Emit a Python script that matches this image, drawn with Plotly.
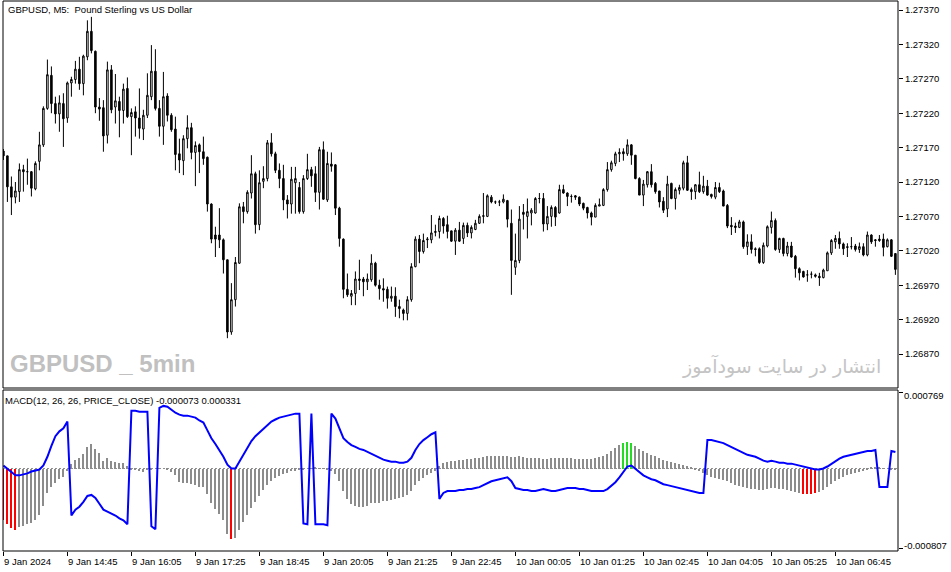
import plotly.graph_objects as go

time_labels = ["9 Jan 2024", "9 Jan 14:45", "9 Jan 16:05", "9 Jan 17:25", "9 Jan 18:45",
               "9 Jan 20:05", "9 Jan 21:25", "9 Jan 22:45", "10 Jan 00:05", "10 Jan 01:25",
               "10 Jan 02:45", "10 Jan 04:05", "10 Jan 05:25", "10 Jan 06:45"]
bars_per_label = 16

price_ticks = [1.26870, 1.26920, 1.26970, 1.27020, 1.27070, 1.27120,
               1.27170, 1.27220, 1.27270, 1.27320, 1.27370]
macd_edge_labels = [0.000769, -0.000807]

opens = [
 1.27165, 1.27158, 1.27113, 1.27098, 1.27106, 1.27138, 1.27135, 1.27135, 1.27110, 1.27150,
 1.27174, 1.27227, 1.27275, 1.27234, 1.27219, 1.27234, 1.27213, 1.27264, 1.27269, 1.27284,
 1.27263, 1.27302, 1.27339, 1.27310, 1.27229, 1.27228, 1.27188, 1.27283, 1.27229, 1.27237,
 1.27224, 1.27256, 1.27215, 1.27222, 1.27213, 1.27197, 1.27217, 1.27244, 1.27281, 1.27227,
 1.27201, 1.27245, 1.27217, 1.27197, 1.27161, 1.27151, 1.27183, 1.27199, 1.27163, 1.27174,
 1.27164, 1.27156, 1.27088, 1.27043, 1.27043, 1.27036, 1.27007, 1.26902, 1.26949, 1.27002,
 1.27084, 1.27077, 1.27104, 1.27132, 1.27058, 1.27121, 1.27125, 1.27177, 1.27161, 1.27137,
 1.27125, 1.27094, 1.27088, 1.27119, 1.27112, 1.27077, 1.27125, 1.27138, 1.27132, 1.27105,
 1.27167, 1.27094, 1.27146, 1.27145, 1.27082, 1.27037, 1.26964, 1.26954, 1.26958, 1.26979,
 1.26979, 1.26975, 1.26978, 1.27002, 1.26970, 1.26965, 1.26964, 1.26951, 1.26954, 1.26939,
 1.26934, 1.26929, 1.26949, 1.26997, 1.27037, 1.27019, 1.27036, 1.27036, 1.27048, 1.27048,
 1.27067, 1.27058, 1.27049, 1.27034, 1.27050, 1.27038, 1.27057, 1.27046, 1.27051, 1.27060,
 1.27070, 1.27070, 1.27098, 1.27091, 1.27091, 1.27091, 1.27093, 1.27060, 1.26996, 1.27006,
 1.27076, 1.27070, 1.27075, 1.27075, 1.27096, 1.27096, 1.27059, 1.27070, 1.27083, 1.27075,
 1.27109, 1.27104, 1.27099, 1.27100, 1.27098, 1.27089, 1.27083, 1.27075, 1.27069, 1.27085,
 1.27086, 1.27109, 1.27138, 1.27147, 1.27161, 1.27164, 1.27161, 1.27174, 1.27159, 1.27125,
 1.27101, 1.27116, 1.27135, 1.27118, 1.27107, 1.27092, 1.27081, 1.27118, 1.27096, 1.27108,
 1.27111, 1.27148, 1.27109, 1.27106, 1.27116, 1.27106, 1.27114, 1.27102, 1.27098, 1.27112,
 1.27107, 1.27086, 1.27057, 1.27056, 1.27054, 1.27062, 1.27026, 1.27033, 1.27023, 1.27023,
 1.27003, 1.27027, 1.27054, 1.27064, 1.27022, 1.27038, 1.27016, 1.27027, 1.27012, 1.26994,
 1.26990, 1.26985, 1.26986, 1.26985, 1.26983, 1.26981, 1.26991, 1.27017, 1.27033, 1.27038,
 1.27030, 1.27026, 1.27026, 1.27027, 1.27022, 1.27026, 1.27014, 1.27043, 1.27036, 1.27037,
 1.27037, 1.27026, 1.27036, 1.27016]

highs = [
 1.27168, 1.27158, 1.27128, 1.27120, 1.27147, 1.27145, 1.27154, 1.27136, 1.27150, 1.27193,
 1.27230, 1.27298, 1.27288, 1.27244, 1.27246, 1.27249, 1.27266, 1.27273, 1.27296, 1.27302,
 1.27305, 1.27355, 1.27360, 1.27311, 1.27242, 1.27239, 1.27295, 1.27290, 1.27277, 1.27244,
 1.27263, 1.27272, 1.27227, 1.27230, 1.27256, 1.27225, 1.27278, 1.27319, 1.27313, 1.27239,
 1.27280, 1.27249, 1.27220, 1.27215, 1.27183, 1.27188, 1.27217, 1.27206, 1.27179, 1.27176,
 1.27186, 1.27157, 1.27089, 1.27055, 1.27082, 1.27038, 1.27007, 1.26973, 1.27011, 1.27089,
 1.27091, 1.27108, 1.27159, 1.27135, 1.27137, 1.27143, 1.27181, 1.27191, 1.27164, 1.27147,
 1.27145, 1.27101, 1.27142, 1.27142, 1.27120, 1.27130, 1.27161, 1.27142, 1.27143, 1.27171,
 1.27179, 1.27164, 1.27163, 1.27146, 1.27084, 1.27038, 1.26987, 1.26963, 1.26990, 1.27007,
 1.26982, 1.26987, 1.27015, 1.27004, 1.26978, 1.26980, 1.26968, 1.26968, 1.26967, 1.26949,
 1.26936, 1.26954, 1.27002, 1.27041, 1.27043, 1.27045, 1.27040, 1.27072, 1.27058, 1.27071,
 1.27069, 1.27071, 1.27049, 1.27053, 1.27062, 1.27061, 1.27061, 1.27057, 1.27065, 1.27073,
 1.27104, 1.27102, 1.27101, 1.27093, 1.27094, 1.27102, 1.27094, 1.27080, 1.27045, 1.27085,
 1.27088, 1.27096, 1.27082, 1.27098, 1.27104, 1.27104, 1.27085, 1.27086, 1.27085, 1.27116,
 1.27116, 1.27105, 1.27102, 1.27101, 1.27099, 1.27090, 1.27084, 1.27077, 1.27089, 1.27096,
 1.27111, 1.27149, 1.27151, 1.27164, 1.27169, 1.27169, 1.27182, 1.27175, 1.27159, 1.27127,
 1.27123, 1.27136, 1.27146, 1.27120, 1.27107, 1.27098, 1.27129, 1.27119, 1.27112, 1.27116,
 1.27151, 1.27158, 1.27112, 1.27117, 1.27135, 1.27129, 1.27123, 1.27103, 1.27120, 1.27119,
 1.27109, 1.27088, 1.27069, 1.27061, 1.27065, 1.27064, 1.27044, 1.27044, 1.27025, 1.27025,
 1.27032, 1.27057, 1.27077, 1.27067, 1.27039, 1.27039, 1.27033, 1.27033, 1.27014, 1.26996,
 1.26991, 1.26992, 1.26990, 1.26987, 1.26988, 1.26994, 1.27019, 1.27037, 1.27043, 1.27048,
 1.27032, 1.27031, 1.27040, 1.27030, 1.27032, 1.27031, 1.27048, 1.27044, 1.27037, 1.27043,
 1.27045, 1.27038, 1.27037, 1.27016]

lows = [
 1.27152, 1.27091, 1.27072, 1.27089, 1.27091, 1.27106, 1.27116, 1.27099, 1.27108, 1.27137,
 1.27171, 1.27225, 1.27220, 1.27205, 1.27193, 1.27171, 1.27206, 1.27244, 1.27263, 1.27254,
 1.27246, 1.27297, 1.27307, 1.27220, 1.27209, 1.27164, 1.27176, 1.27220, 1.27205, 1.27185,
 1.27205, 1.27213, 1.27159, 1.27186, 1.27183, 1.27181, 1.27213, 1.27239, 1.27224, 1.27186,
 1.27174, 1.27208, 1.27193, 1.27137, 1.27133, 1.27130, 1.27169, 1.27153, 1.27114, 1.27133,
 1.27145, 1.27077, 1.27031, 1.27011, 1.27024, 1.26987, 1.26893, 1.26898, 1.26939, 1.27001,
 1.27060, 1.27074, 1.27096, 1.27045, 1.27050, 1.27111, 1.27121, 1.27157, 1.27133, 1.27111,
 1.27079, 1.27067, 1.27074, 1.27074, 1.27074, 1.27074, 1.27123, 1.27113, 1.27091, 1.27080,
 1.27094, 1.27091, 1.27135, 1.27072, 1.27026, 1.26951, 1.26953, 1.26941, 1.26941, 1.26963,
 1.26954, 1.26963, 1.26975, 1.26968, 1.26949, 1.26946, 1.26936, 1.26946, 1.26924, 1.26922,
 1.26919, 1.26919, 1.26946, 1.26996, 1.27002, 1.27016, 1.27024, 1.27031, 1.27041, 1.27038,
 1.27045, 1.27038, 1.27033, 1.27014, 1.27033, 1.27030, 1.27040, 1.27038, 1.27050, 1.27059,
 1.27060, 1.27069, 1.27089, 1.27088, 1.27085, 1.27089, 1.27054, 1.26956, 1.26985, 1.27002,
 1.27051, 1.27038, 1.27057, 1.27074, 1.27089, 1.27048, 1.27050, 1.27055, 1.27056, 1.27074,
 1.27103, 1.27085, 1.27090, 1.27094, 1.27085, 1.27079, 1.27067, 1.27057, 1.27069, 1.27085,
 1.27085, 1.27106, 1.27135, 1.27143, 1.27149, 1.27151, 1.27158, 1.27145, 1.27124, 1.27101,
 1.27085, 1.27112, 1.27112, 1.27103, 1.27083, 1.27075, 1.27069, 1.27095, 1.27080, 1.27102,
 1.27108, 1.27107, 1.27094, 1.27095, 1.27104, 1.27103, 1.27100, 1.27096, 1.27095, 1.27104,
 1.27085, 1.27053, 1.27043, 1.27046, 1.27053, 1.27023, 1.27014, 1.27016, 1.27012, 1.27001,
 1.27001, 1.27025, 1.27045, 1.27020, 1.27017, 1.27012, 1.27012, 1.27010, 1.26981, 1.26977,
 1.26981, 1.26975, 1.26980, 1.26981, 1.26969, 1.26980, 1.26991, 1.27014, 1.27023, 1.27023,
 1.27014, 1.27011, 1.27022, 1.27019, 1.27017, 1.27012, 1.27012, 1.27030, 1.27026, 1.27033,
 1.27012, 1.27025, 1.27011, 1.26985]

closes = [
 1.27158, 1.27113, 1.27098, 1.27107, 1.27138, 1.27135, 1.27135, 1.27111, 1.27147, 1.27174,
 1.27227, 1.27276, 1.27234, 1.27219, 1.27235, 1.27212, 1.27264, 1.27269, 1.27284, 1.27263,
 1.27303, 1.27339, 1.27311, 1.27229, 1.27226, 1.27187, 1.27283, 1.27225, 1.27238, 1.27224,
 1.27255, 1.27215, 1.27221, 1.27213, 1.27198, 1.27217, 1.27246, 1.27281, 1.27227, 1.27201,
 1.27244, 1.27217, 1.27196, 1.27160, 1.27152, 1.27183, 1.27199, 1.27163, 1.27173, 1.27164,
 1.27154, 1.27088, 1.27037, 1.27037, 1.27036, 1.27007, 1.26902, 1.26949, 1.27003, 1.27084,
 1.27077, 1.27105, 1.27132, 1.27058, 1.27119, 1.27125, 1.27177, 1.27161, 1.27137, 1.27125,
 1.27094, 1.27088, 1.27124, 1.27125, 1.27077, 1.27125, 1.27138, 1.27129, 1.27105, 1.27167,
 1.27095, 1.27147, 1.27143, 1.27082, 1.27038, 1.26964, 1.26956, 1.26958, 1.26979, 1.26977,
 1.26975, 1.26979, 1.27002, 1.26970, 1.26965, 1.26963, 1.26951, 1.26954, 1.26939, 1.26936,
 1.26929, 1.26949, 1.26997, 1.27037, 1.27019, 1.27035, 1.27037, 1.27046, 1.27047, 1.27067,
 1.27056, 1.27048, 1.27034, 1.27050, 1.27034, 1.27057, 1.27046, 1.27054, 1.27060, 1.27070,
 1.27071, 1.27100, 1.27091, 1.27091, 1.27091, 1.27095, 1.27066, 1.27006, 1.27006, 1.27066,
 1.27073, 1.27077, 1.27079, 1.27096, 1.27096, 1.27059, 1.27070, 1.27083, 1.27069, 1.27109,
 1.27104, 1.27099, 1.27099, 1.27098, 1.27088, 1.27082, 1.27075, 1.27069, 1.27086, 1.27087,
 1.27109, 1.27138, 1.27148, 1.27161, 1.27163, 1.27161, 1.27174, 1.27159, 1.27125, 1.27101,
 1.27117, 1.27135, 1.27116, 1.27106, 1.27091, 1.27079, 1.27117, 1.27096, 1.27109, 1.27112,
 1.27148, 1.27108, 1.27106, 1.27116, 1.27106, 1.27114, 1.27101, 1.27099, 1.27112, 1.27106,
 1.27085, 1.27056, 1.27055, 1.27054, 1.27062, 1.27026, 1.27033, 1.27022, 1.27022, 1.27003,
 1.27028, 1.27055, 1.27064, 1.27022, 1.27038, 1.27016, 1.27027, 1.27011, 1.26994, 1.26988,
 1.26982, 1.26985, 1.26986, 1.26983, 1.26981, 1.26992, 1.27017, 1.27035, 1.27038, 1.27030,
 1.27023, 1.27025, 1.27026, 1.27022, 1.27026, 1.27014, 1.27043, 1.27033, 1.27035, 1.27035,
 1.27025, 1.27036, 1.27012, 1.26993]

macd_hist = [
 -0.000520, -0.000560, -0.000600, -0.000620, -0.000585, -0.000574, -0.000560, -0.000550, -0.000515, -0.000463,
 -0.000376, -0.000247, -0.000184, -0.000150, -0.000108, -0.000087, -0.000021, 0.000042, 0.000087, 0.000104,
 0.000146, 0.000216, 0.000250, 0.000198, 0.000157, 0.000077, 0.000101, 0.000077, 0.000066, 0.000052,
 0.000052, 0.000024, -0.000017, -0.000017, -0.000028, -0.000038, -0.000017, -0.000007, 0.000000, 0.000003,
 0.000000, -0.000007, -0.000038, -0.000063, -0.000132, -0.000143, -0.000150, -0.000157, -0.000167, -0.000191,
 -0.000191, -0.000254, -0.000351, -0.000410, -0.000456, -0.000515, -0.000654, -0.000706, -0.000700, -0.000620,
 -0.000540, -0.000463, -0.000400, -0.000340, -0.000280, -0.000220, -0.000170, -0.000130, -0.000100, -0.000080,
 -0.000060, -0.000050, -0.000030, -0.000020, -0.000010, -0.000005, 0.000000, 0.000005, 0.000008, 0.000003,
 -0.000003, -0.000010, -0.000030, -0.000059, -0.000128, -0.000227, -0.000305, -0.000355, -0.000374, -0.000384,
 -0.000384, -0.000374, -0.000345, -0.000345, -0.000345, -0.000325, -0.000325, -0.000315, -0.000305, -0.000296,
 -0.000286, -0.000266, -0.000227, -0.000167, -0.000128, -0.000099, -0.000069, -0.000049, -0.000020, 0.000030,
 0.000059, 0.000069, 0.000079, 0.000079, 0.000089, 0.000089, 0.000099, 0.000099, 0.000108, 0.000108,
 0.000118, 0.000128, 0.000128, 0.000128, 0.000128, 0.000128, 0.000128, 0.000118, 0.000118, 0.000128,
 0.000118, 0.000108, 0.000108, 0.000108, 0.000108, 0.000099, 0.000099, 0.000108, 0.000108, 0.000108,
 0.000108, 0.000108, 0.000108, 0.000099, 0.000099, 0.000099, 0.000099, 0.000099, 0.000108, 0.000118,
 0.000128, 0.000148, 0.000177, 0.000207, 0.000236, 0.000256, 0.000266, 0.000256, 0.000227, 0.000197,
 0.000177, 0.000158, 0.000138, 0.000128, 0.000108, 0.000089, 0.000079, 0.000069, 0.000059, 0.000049,
 0.000039, 0.000030, 0.000010, -0.000010, -0.000030, -0.000049, -0.000069, -0.000089, -0.000099, -0.000108,
 -0.000118, -0.000128, -0.000148, -0.000167, -0.000177, -0.000187, -0.000197, -0.000207, -0.000207, -0.000217,
 -0.000217, -0.000207, -0.000197, -0.000197, -0.000207, -0.000207, -0.000217, -0.000227, -0.000236, -0.000246,
 -0.000256, -0.000256, -0.000256, -0.000246, -0.000236, -0.000217, -0.000187, -0.000158, -0.000128, -0.000108,
 -0.000089, -0.000069, -0.000059, -0.000049, -0.000039, -0.000030, -0.000010, 0.000010, 0.000010, 0.000010,
 0.000005, 0.000000, -0.000005, -0.000010]

macd_line = [
 0.000030, 0.000000, -0.000030, -0.000069, -0.000069, -0.000059, -0.000049, -0.000030, -0.000020, -0.000010,
 0.000030, 0.000118, 0.000227, 0.000325, 0.000374, 0.000404, 0.000473, -0.000473, -0.000414, -0.000384,
 -0.000335, -0.000276, -0.000266, -0.000296, -0.000355, -0.000414, -0.000433, -0.000453, -0.000473, -0.000502,
 -0.000522, -0.000561, 0.000581, 0.000581, 0.000571, 0.000571, 0.000571, -0.000581, -0.000611, 0.000611,
 0.000630, 0.000621, 0.000591, 0.000561, 0.000542, 0.000532, 0.000532, 0.000522, 0.000512, 0.000483,
 0.000463, 0.000384, 0.000305, 0.000246, 0.000187, 0.000118, 0.000039, 0.000000, 0.000000, 0.000069,
 0.000138, 0.000217, 0.000276, 0.000325, 0.000364, 0.000404, 0.000443, 0.000473, 0.000493, 0.000512,
 0.000522, 0.000532, 0.000542, 0.000552, 0.000552, -0.000552, -0.000561, 0.000552, -0.000561, -0.000561,
 -0.000561, -0.000571, 0.000552, 0.000502, 0.000404, 0.000305, 0.000266, 0.000236, 0.000217, 0.000197,
 0.000187, 0.000167, 0.000148, 0.000128, 0.000108, 0.000089, 0.000079, 0.000069, 0.000069, 0.000059,
 0.000059, 0.000069, 0.000108, 0.000187, 0.000246, 0.000286, 0.000315, 0.000345, 0.000364, -0.000305,
 -0.000246, -0.000227, -0.000227, -0.000227, -0.000217, -0.000217, -0.000207, -0.000207, -0.000197, -0.000187,
 -0.000167, -0.000148, -0.000128, -0.000118, -0.000108, -0.000099, -0.000089, -0.000128, -0.000197, -0.000207,
 -0.000217, -0.000217, -0.000227, -0.000227, -0.000217, -0.000207, -0.000217, -0.000227, -0.000227, -0.000217,
 -0.000207, -0.000197, -0.000197, -0.000197, -0.000207, -0.000207, -0.000217, -0.000227, -0.000227, -0.000227,
 -0.000227, -0.000207, -0.000177, -0.000138, -0.000089, -0.000030, 0.000020, 0.000030, 0.000000, -0.000030,
 -0.000069, -0.000089, -0.000108, -0.000118, -0.000138, -0.000158, -0.000167, -0.000177, -0.000187, -0.000197,
 -0.000207, -0.000217, -0.000227, -0.000236, -0.000246, -0.000246, 0.000286, 0.000286, 0.000276, 0.000266,
 0.000256, 0.000236, 0.000217, 0.000197, 0.000177, 0.000158, 0.000138, 0.000128, 0.000118, 0.000099,
 0.000079, 0.000069, 0.000079, 0.000069, 0.000059, 0.000059, 0.000049, 0.000049, 0.000039, 0.000030,
 0.000020, 0.000010, 0.000000, -0.000010, -0.000010, 0.000000, 0.000020, 0.000049, 0.000079, 0.000099,
 0.000118, 0.000128, 0.000138, 0.000148, 0.000158, 0.000167, 0.000177, 0.000177, 0.000187, -0.000187,
 -0.000187, -0.000187, 0.000177, 0.000167]

red_bars = [0, 1, 2, 3, 57, 200, 201, 202, 203]
green_bars = [155, 156, 157]

n = len(opens)
xs = list(range(n))
hist_colors = ["#ff0000" if i in red_bars else ("#22dd22" if i in green_bars else "#8c8c8c") for i in xs]
tick_pos = [i * bars_per_label for i in range(len(time_labels))]

W, H = 951, 572
ML, MR, MT, MB = 3, 53, 1, 21
PH = H - MT - MB
PW = W - ML - MR
price_bottom_px = 388
macd_top_px = 390
price_dom = [(H - MB - price_bottom_px) / PH, 1.0]
macd_dom = [0.0, (H - MB - macd_top_px) / PH]
xr = [-0.1, n - 1 + 0.65]

FONT = "Liberation Sans, Arial, sans-serif"

fig = go.Figure()
fig.add_trace(go.Candlestick(
    x=xs, open=opens, high=highs, low=lows, close=closes,
    increasing=dict(line=dict(color="black", width=1), fillcolor="white"),
    decreasing=dict(line=dict(color="black", width=1), fillcolor="black"),
    whiskerwidth=0, xaxis="x", yaxis="y", hoverinfo="skip", showlegend=False))
fig.add_trace(go.Bar(
    x=xs, y=macd_hist, width=0.5, marker=dict(color=hist_colors, line=dict(width=0)),
    xaxis="x2", yaxis="y2", hoverinfo="skip", showlegend=False))
fig.add_trace(go.Scatter(
    x=xs, y=macd_line, mode="lines", line=dict(color="#0000ff", width=2),
    xaxis="x2", yaxis="y2", hoverinfo="skip", showlegend=False))

axis_common = dict(showgrid=False, zeroline=False, fixedrange=True)
fig.update_layout(
    width=W, height=H, margin=dict(l=ML, r=MR, t=MT, b=MB, pad=0),
    paper_bgcolor="white", plot_bgcolor="white", showlegend=False,
    boxgap=0.45, bargap=0,
    font=dict(family=FONT, size=9.5, color="black"),
    xaxis=dict(domain=[0, 1], anchor="y", range=xr, showticklabels=False, ticks="",
               rangeslider=dict(visible=False), **axis_common),
    yaxis=dict(domain=price_dom, anchor="x", side="right", range=[1.268206, 1.273831],
               tickvals=price_ticks, tickformat=".5f", ticks="outside", ticklen=4,
               tickcolor="black", tickfont=dict(family=FONT, size=9.5, color="black"),
               **axis_common),
    xaxis2=dict(domain=[0, 1], anchor="y2", range=xr, tickvals=tick_pos, ticks="outside",
                ticklen=4, tickcolor="black", showticklabels=False, **axis_common),
    yaxis2=dict(domain=macd_dom, anchor="x2", side="right", range=[-0.00083, 0.00079],
                tickvals=macd_edge_labels, ticks="outside", ticklen=4, tickcolor="black",
                showticklabels=False, **axis_common),
)

shapes = [
    dict(type="line", xref="x2 domain", yref="y2", x0=0, x1=1, y0=0, y1=0,
         line=dict(color="#909090", width=1, dash="2px,2px"), layer="below"),
    dict(type="rect", xref="x domain", yref="y domain", x0=0, x1=1, y0=0, y1=1,
         line=dict(color="black", width=1), fillcolor="rgba(0,0,0,0)"),
    dict(type="rect", xref="x2 domain", yref="y2 domain", x0=0, x1=1, y0=0, y1=1,
         line=dict(color="black", width=1), fillcolor="rgba(0,0,0,0)"),
]
fig.update_layout(shapes=shapes)

ann = []
ann.append(dict(text="GBPUSD, M5:\u00a0 Pound Sterling vs US Dollar", xref="paper", yref="paper",
                x=0, y=1, xanchor="left", yanchor="top", xshift=3, yshift=-1, showarrow=False,
                font=dict(family=FONT, size=9.5, color="black")))
ann.append(dict(text="MACD(12, 26, 26, PRICE_CLOSE) -0.000073 0.000331", xref="paper", yref="y2 domain",
                x=0, y=1, xanchor="left", yanchor="top", xshift=0, yshift=-3, showarrow=False,
                font=dict(family=FONT, size=9.5, color="black")))
for pos, lab in zip(tick_pos, time_labels):
    ann.append(dict(text=lab, xref="x2", yref="y2 domain", x=pos, y=0, xanchor="left",
                    yanchor="top", xshift=-1, yshift=-3, showarrow=False,
                    font=dict(family=FONT, size=9.5, color="black")))
ann.append(dict(text="0.000769", xref="paper", yref="y2", x=1, y=macd_edge_labels[0],
                xanchor="left", yanchor="middle", xshift=4, yshift=-3, showarrow=False,
                font=dict(family=FONT, size=9.5, color="black")))
ann.append(dict(text="-0.000807", xref="paper", yref="y2", x=1, y=macd_edge_labels[1],
                xanchor="left", yanchor="middle", xshift=4, yshift=3, showarrow=False,
                font=dict(family=FONT, size=9.5, color="black")))
ann.append(dict(text="<b>GBPUSD _ 5min</b>", xref="paper", yref="paper",
                x=(8 - ML) / PW, y=(H - MB - 363) / PH, xanchor="left", yanchor="middle",
                showarrow=False,
                font=dict(family="Liberation Sans, Arial, sans-serif", size=24, color="#c0c0c0")))
ann.append(dict(text="انتشار در سایت سودآموز", xref="paper", yref="paper",
                x=(883 - ML) / PW, y=(H - MB - 366) / PH, xanchor="right", yanchor="middle",
                showarrow=False, font=dict(family="DejaVu Sans", size=19, color="#c4c4c4")))
fig.update_layout(annotations=ann)

fig.write_html("out.html", config={"displayModeBar": False},
               post_script="document.body.style.margin='0';")
